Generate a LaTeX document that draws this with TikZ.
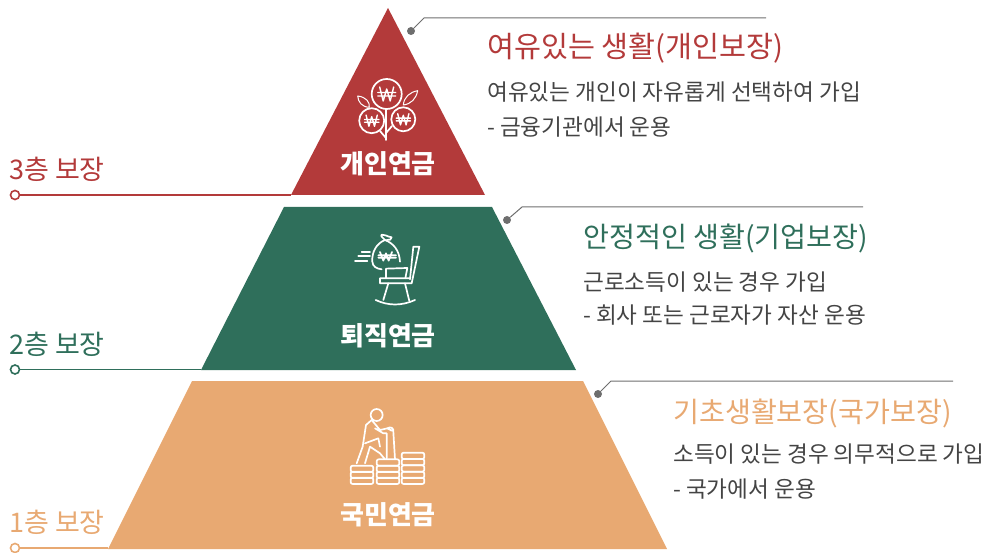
\documentclass[tikz,border=0pt]{standalone}
\usepackage{fontspec}
\setmainfont{Noto Sans CJK KR}
\usetikzlibrary{positioning}
\definecolor{pyred}{HTML}{B33A3A}
\definecolor{pygreen}{HTML}{2F6F5B}
\definecolor{pyorange}{HTML}{E8A972}
\definecolor{leadgray}{HTML}{6E6E6E}
\definecolor{bodygray}{HTML}{444444}
\tikzset{title/.style={text=white,font=\fontsize{26}{26}\selectfont\bfseries,inner sep=0pt},
         head/.style={anchor=west,inner sep=0pt,font=\fontsize{28.2}{29}\selectfont},
         body/.style={anchor=west,inner sep=0pt,text=bodygray,font=\fontsize{22.6}{23}\selectfont},
         level/.style={anchor=west,inner sep=0pt,font=\fontsize{27}{27}\selectfont},
         ring/.style={circle,draw,fill=white,line width=1.6pt,inner sep=0pt,minimum size=9pt},
         dot/.style={circle,fill=leadgray,inner sep=0pt,minimum size=8pt},
         lead/.style={leadgray,line width=1pt},
         icon/.style={draw=white,line width=1.7pt,line join=round,line cap=round}
}
\begin{document}
\begin{tikzpicture}[x=1pt,y=-1pt]
  \useasboundingbox (0,0) rectangle (992,553);
  % pyramid
  \fill[pyred] (388,8) -- (485,195) -- (291,195) -- cycle;
  \fill[pygreen] (284,207) -- (492,207) -- (576,370) -- (201,370) -- cycle;
  \fill[pyorange] (192,381) -- (583,381) -- (667,549) -- (108,549) -- cycle;
  \node[title] (t3) at (388,164) {개인연금};
  \node[title] (t2) at (388,336) {퇴직연금};
  \node[title] (t1) at (388,515) {국민연금};
  % left levels
  \node[level,text=pyred] (l3) at (9,169) {3층 보장};
  \node[level,text=pygreen] (l2) at (9,344) {2층 보장};
  \node[level,text=pyorange] (l1) at (9,522) {1층 보장};
  \coordinate (e3) at (291,195);
  \coordinate (e2) at (201,369.5);
  \coordinate (e1) at (108,548);
  \node[ring,draw=pyred] (r3) at (15,195) {};
  \node[ring,draw=pygreen] (r2) at (15,369.5) {};
  \node[ring,draw=pyorange] (r1) at (15,548) {};
  \draw[pyred,line width=1.2pt] (r3) -- (e3);
  \draw[pygreen,line width=1.2pt] (r2) -- (e2);
  \draw[pyorange,line width=1.2pt] (r1) -- (e1);
  % leaders
  \node[dot] (d3) at (411,31) {};
  \node[dot] (d2) at (507,220) {};
  \node[dot] (d1) at (598,394) {};
  \coordinate (k3) at (424,18);
  \coordinate (k2) at (522,207);
  \coordinate (k1) at (611,381);
  \coordinate (f3) at (766,18);
  \coordinate (f2) at (863,207);
  \coordinate (f1) at (953,381);
  \draw[lead] (d3) -- (k3) -- (f3);
  \draw[lead] (d2) -- (k2) -- (f2);
  \draw[lead] (d1) -- (k1) -- (f1);
  % texts
  \node[head,text=pyred,font=\fontsize{29.3}{30}\selectfont] (h3) at (487,48) {여유있는 생활(개인보장)};
  \node[body] (b3a) at (487,92) {여유있는 개인이 자유롭게 선택하여 가입};
  \node[body] (b3b) at (487,127) {- 금융기관에서 운용};
  \node[head,text=pygreen] (h2) at (583,238) {안정적인 생활(기업보장)};
  \node[body] (b2a) at (583,282) {근로소득이 있는 경우 가입};
  \node[body] (b2b) at (583,315) {- 회사 또는 근로자가 자산 운용};
  \node[head,text=pyorange] (h1) at (673,413) {기초생활보장(국가보장)};
  \node[body] (b1a) at (673,454) {소득이 있는 경우 의무적으로 가입};
  \node[body] (b1b) at (673,489) {- 국가에서 운용};
  % icon: money tree
  \begin{scope}[icon]
    \draw (386.7,94) circle (15);
    \draw (371.7,120.7) circle (12.5);
    \draw (403.3,119.3) circle (12);
    \draw (386,109) -- (386,140) (380,131) -- (386,138) (392,126) -- (386,133);
    \draw[line width=1pt] (357.7,96) .. controls (366,97) and (370,102) .. (369.3,107.3) .. controls (362,107) and (358,102) .. (357.7,96);
    \draw[line width=1pt] (417.7,90.7) .. controls (416,99) and (411,104) .. (403.3,105) .. controls (404,97) and (410,92) .. (417.7,90.7);
    \foreach \wx/\wy/\ws in {386.7/94/1,371.7/120.7/.8,403.3/119.3/.8}
      \draw[shift={(\wx,\wy)},x=\ws pt,y=-\ws pt,line width=1.4pt] (-7,-7) -- (-3.5,7) -- (0,-5) -- (3.5,7) -- (7,-7) (-9,-1.5) -- (9,-1.5) (-9,2) -- (9,2);
  \end{scope}
  % icon: bag and rocking chair
  \begin{scope}[shift={(330,220)},x=.3333pt,y=-.3333pt,icon]
    \draw (155,148) .. controls (140,146) and (128,140) .. (127,125) .. controls (125,95) and (140,70) .. (165,60) .. controls (190,70) and (208,90) .. (210,125);
    \draw (165,60) .. controls (160,52) and (150,50) .. (155,44) .. controls (165,42) and (170,50) .. (185,52) .. controls (185,58) and (178,62) .. (170,60);
    \draw (150,96) -- (160,122) -- (168,100) -- (176,122) -- (186,96) (145,106) -- (198,106) (145,113) -- (198,113);
    \draw (95,95) -- (120,95) (85,108) -- (120,108) (75,122) -- (112,122);
    \draw (240,178) -- (250,80) -- (268,80) -- (245,190) -- (150,190) -- (150,175) -- (240,175);
    \draw (168,175) -- (168,146) -- (232,144) -- (226,175);
    \draw (175,190) -- (160,240) (225,190) -- (238,243);
    \draw (137,240) .. controls (175,258) and (215,258) .. (255,240);
  \end{scope}
  % icon: climbing coins
  \begin{scope}[shift={(330,400)},x=.3333pt,y=-.3333pt,icon]
    \draw (140,45) circle (18);
    \draw (80,190) -- (98,140) -- (108,75) -- (125,60) (105,190) -- (120,140) -- (150,160) -- (165,178);
    \draw (125,60) -- (150,90) -- (172,85) (105,130) -- (145,115) -- (150,140) (135,85) -- (160,100) -- (170,100) -- (170,175);
    \draw (172,85) .. controls (182,78) and (192,85) .. (190,95) -- (195,178) (172,85) -- (185,92);
    \foreach \sx/\sy in {62/197,62/215,62/233,140/178,140/197,140/215,140/233,215/158,215/177,215/196,215/215,215/233}
      \draw[rounded corners=2pt] (\sx,\sy) rectangle ++(68,19);
  \end{scope}
\end{tikzpicture}
\end{document}
